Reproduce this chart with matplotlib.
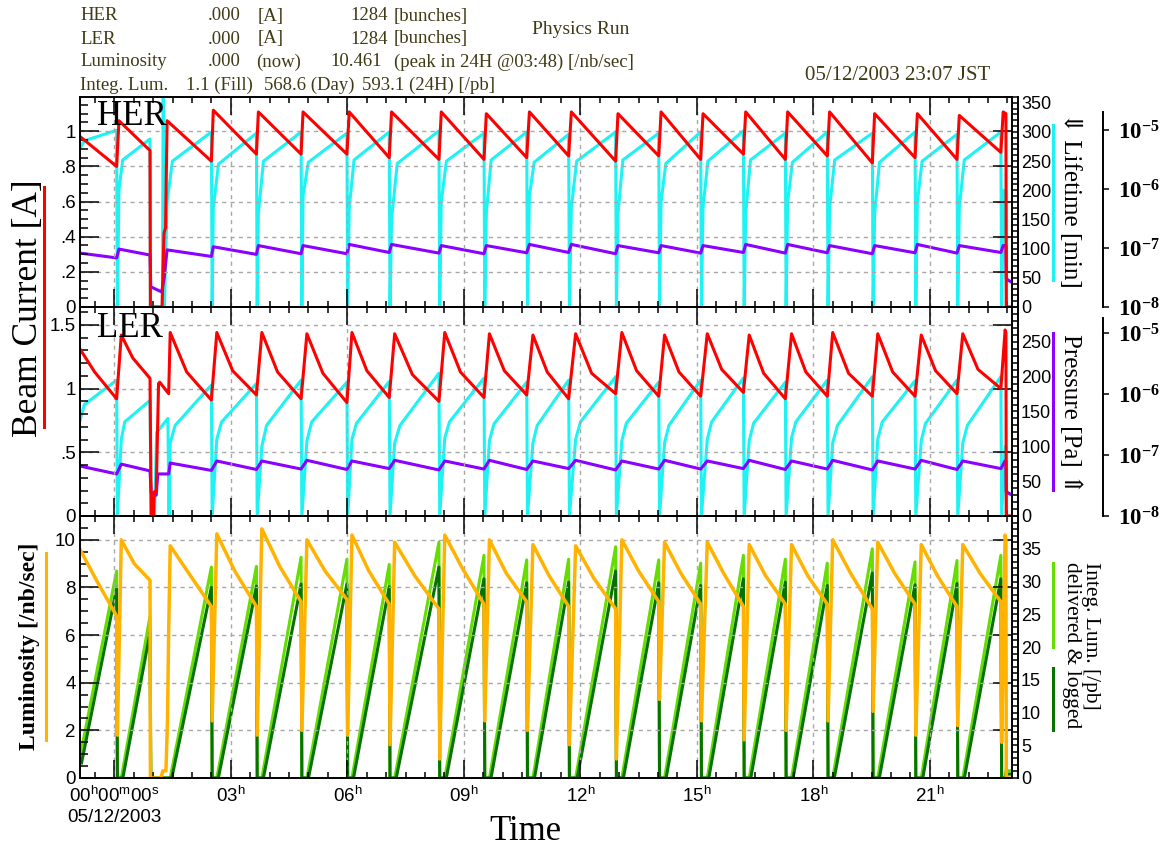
import math
import matplotlib.pyplot as plt
from matplotlib.lines import Line2D
from matplotlib.ticker import MultipleLocator, FixedLocator, FuncFormatter, NullLocator

plt.rcParams['font.family'] = ['Liberation Sans', 'DejaVu Sans']
plt.rcParams['mathtext.fontset'] = 'custom'
plt.rcParams['mathtext.rm'] = 'Liberation Sans'
plt.rcParams['mathtext.bf'] = 'Liberation Serif:bold'
plt.rcParams['mathtext.default'] = 'regular'
SERIF = ['Liberation Serif', 'DejaVu Serif']

# ---------------- data (hours since 00:00 05/12/2003) ----------------
T_START, T_END = -0.883, 23.117

her_on_t   = [-0.883, 0.12, 1.36, 2.55, 3.71, 4.86, 6.05, 7.14, 8.42, 9.58, 10.69,
              11.77, 12.97, 14.08, 15.16, 16.26, 17.34, 18.42, 19.58, 20.68, 21.76, 22.89]
ler_on_t   = [-0.883, 0.18, 1.44, 2.64, 3.80, 4.96, 6.12, 7.22, 8.51, 9.66, 10.78,
              11.88, 13.07, 14.17, 15.27, 16.35, 17.44, 18.50, 19.66, 20.78, 21.85, 22.94]
fill_end_t = [0.06, 0.92, 2.50, 3.66, 4.81, 5.99, 7.08, 8.36, 9.52, 10.62, 11.70,
              12.91, 14.02, 15.10, 16.20, 17.28, 18.36, 19.52, 20.62, 21.70, 22.83, 22.96]

# beam currents [A]
her_on  = [0.97, 1.06, 1.06, 1.12, 1.11, 1.11, 1.11, 1.11, 1.11, 1.10, 1.11,
           1.11, 1.10, 1.11, 1.10, 1.11, 1.11, 1.11, 1.10, 1.10, 1.09, 1.11]
her_off = [0.80, 0.89, 0.83, 0.87, 0.87, 0.87, 0.85, 0.84, 0.84, 0.85, 0.86,
           0.83, 0.86, 0.84, 0.87, 0.84, 0.86, 0.82, 0.85, 0.84, 0.88, 1.10]
ler_on  = [1.31, 1.42, 1.44, 1.44, 1.44, 1.43, 1.44, 1.43, 1.44, 1.43, 1.42,
           1.43, 1.44, 1.42, 1.43, 1.42, 1.43, 1.44, 1.43, 1.42, 1.43, 1.46]
ler_mid = [1.13, 1.24, 1.13, 1.14, 1.13, 1.12, 1.14, 1.11, 1.13, 1.14, 1.13,
           1.12, 1.14, 1.13, 1.15, 1.12, 1.13, 1.12, 1.13, 1.14, 1.15, 1.45]
ler_off = [0.92, 1.08, 0.91, 0.95, 0.92, 0.89, 0.93, 0.90, 0.93, 0.95, 0.92,
           0.96, 0.94, 0.94, 0.97, 0.92, 0.94, 0.94, 0.94, 0.96, 1.00, 1.44]

# lifetimes [min]
her_life_on  = [272, 200, 180, 170, 160, 190, 170, 150, 180, 160, 190,
                170, 160, 180, 170, 160, 180, 170, 160, 180, 170, 150]
her_life_mid = [285, 252, 250, 245, 250, 248, 252, 246, 250, 252, 248,
                250, 252, 246, 250, 252, 248, 252, 248, 250, 252, 200]
her_life_off = [303, 288, 300, 298, 300, 298, 300, 302, 298, 300, 296,
                300, 298, 300, 302, 298, 300, 298, 300, 296, 300, 200]
ler_life_on  = [137, 110, 105, 110, 100, 108, 110, 105, 112, 108, 105,
                110, 108, 105, 110, 108, 112, 105, 110, 108, 105, 100]
ler_life_mid = [160, 135, 130, 135, 130, 135, 133, 130, 135, 132, 130,
                135, 133, 130, 135, 133, 135, 130, 135, 133, 130, 100]
ler_life_off = [195, 166, 188, 190, 195, 192, 193, 205, 198, 192, 195,
                200, 192, 195, 198, 192, 195, 200, 194, 195, 200, 100]

# vacuum pressure [1e-8 Pa]
her_p_on  = [8.2, 9.6, 9.3, 10.5, 11.0, 11.0, 11.5, 11.5, 11.0, 11.0, 11.5,
             11.5, 11.0, 11.0, 11.0, 11.5, 11.5, 11.0, 11.0, 11.5, 11.0, 11.0]
her_p_off = [6.8, 7.6, 7.2, 7.8, 8.0, 8.0, 8.4, 8.2, 8.0, 8.3, 8.4,
             8.0, 8.3, 8.2, 8.4, 8.2, 8.3, 8.0, 8.3, 8.2, 8.4, 11.0]
ler_p_on  = [6.6, 7.1, 7.4, 8.0, 8.0, 8.2, 8.0, 8.2, 8.0, 8.2, 8.0,
             8.2, 8.0, 8.2, 8.0, 8.2, 8.0, 8.2, 8.0, 8.2, 8.0, 8.0]
ler_p_off = [4.9, 5.5, 5.6, 5.8, 5.9, 5.8, 6.0, 5.7, 5.9, 5.8, 6.0,
             5.7, 5.9, 5.9, 6.0, 5.8, 5.9, 5.7, 5.9, 5.8, 6.0, 8.0]

# luminosity [/nb/sec]
lum_on  = [9.6, 10.0, 9.75, 10.25, 10.46, 10.0, 10.2, 9.9, 10.2, 10.0, 9.8,
           9.75, 10.0, 9.9, 9.9, 9.8, 9.8, 10.0, 9.9, 9.8, 9.8, 10.2]
lum_mid = [8.3, 9.0, 8.6, 8.7, 8.9, 8.7, 8.7, 8.5, 8.8, 8.6, 8.5,
           8.4, 8.7, 8.6, 8.6, 8.5, 8.5, 8.6, 8.6, 8.5, 8.6, 10.1]
lum_off = [6.8, 8.3, 7.2, 7.2, 7.4, 7.5, 7.3, 7.1, 7.3, 7.4, 7.2,
           7.1, 7.4, 7.3, 7.2, 7.3, 7.3, 7.1, 7.3, 7.2, 7.4, 10.0]
lum_dip = [1.8, 0.0, 2.4, 1.8, 2.0, 1.8, 1.4, 0.8, 2.4, 2.0, 1.4,
           0.8, 3.3, 2.4, 1.6, 2.0, 2.4, 2.8, 1.8, 2.2, 1.5, 0.0]

# integrated luminosity per fill [/pb]
int_del_on  = [3.2] + [0.0] * 21
int_log_on  = [2.3] + [0.0] * 21
int_del_off = [31.6, 24.7, 32.2, 32.3, 33.7, 33.4, 32.6, 36.0, 34.0, 33.3, 33.4,
               35.3, 33.3, 32.8, 34.0, 33.4, 32.8, 35.0, 33.0, 33.2, 34.0, 1.1]
int_log_off = [29.0, 22.2, 29.1, 29.3, 29.6, 29.6, 29.2, 32.2, 30.4, 29.8, 29.9,
               31.6, 29.8, 29.4, 30.4, 29.9, 29.4, 31.3, 29.5, 29.7, 30.4, 0.6]

# beam loss after fill 1 and final abort
her_gap_t, her_gap = [0.93, 1.23, 1.28, 1.32], [0, 0, 0.42, 0.45]
ler_gap_t, ler_gap = [0.95, 1.01, 1.03, 1.08, 1.14, 1.17, 1.40], [0, 0, 0.19, 0.19, 1.04, 1.05, 0.96]
lum_gap_t, lum_gap = [0.93, 1.20, 1.25, 1.33, 1.37, 1.40], [0, 0, 0.3, 0.3, 2.4, 6.1]
her_life_gap_t, her_life_gap = [0.93, 1.24, 1.26, 1.29], [0, 0, 380, 0]
ler_life_gap_t, ler_life_gap = [0.95, 1.04, 1.09, 1.38, 1.41], [0, 0, 120, 140, 0]
her_p_gap_t, her_p_gap = [0.94, 1.22, 1.28], [2.2, 1.8, 3.0]
ler_p_gap_t, ler_p_gap = [0.95, 1.08, 1.12, 1.40], [2.4, 2.2, 4.9, 4.9]
abort_t = [22.97, T_END]
her_p_abort, ler_p_abort = [3.0, 2.6], [2.5, 2.2]


def sawtooth(t_on, v_on, t_off, v_off, v_mid=None, frac=0.5, v_inj=None, gaps=None):
    """Join the fills into one polyline: peak -> (mid) -> end -> injection."""
    gaps = gaps or {}
    t, v = [], []
    for i in range(len(t_on)):
        t.append(t_on[i]); v.append(v_on[i])
        if v_mid is not None:
            t.append(t_on[i] + frac * (t_off[i] - t_on[i])); v.append(v_mid[i])
        t.append(t_off[i]); v.append(v_off[i])
        if i in gaps:
            t += list(gaps[i][0]); v += list(gaps[i][1])
        elif v_inj is not None:
            t.append(t_off[i] + 0.02); v.append(v_inj[i])
    return t, v


# ---------------- figure ----------------
W, H = 1163, 852
fig = plt.figure(figsize=(W / 100, H / 100), dpi=100)
fig.patch.set_facecolor('white')

RED, CYAN, PURPLE = '#ff0000', '#1ef2f2', '#8c00ff'
ORANGE, LGREEN, DGREEN = '#ffb300', '#66dd00', '#067300'
HDR = '#3e3a14'
LW = 2.2


def px_axes(x0, y0, x1, y1):
    return fig.add_axes([x0 / W, 1 - y1 / H, (x1 - x0) / W, (y1 - y0) / H])


def no_lead_zero(v, pos):
    s = '%g' % v
    return s[1:] if s.startswith('0.') else s


def hour_label(v, pos):
    h = int(round(v))
    if h == 0:
        return '$00^h00^m00^s$\n05/12/2003'
    return '$%02d^h$' % h


def style_main(ax, ymax, major, minor, bottom_labels=False):
    ax.set_xlim(T_START, T_END)
    ax.set_ylim(0, ymax)
    ax.xaxis.set_major_locator(MultipleLocator(3))
    ax.xaxis.set_minor_locator(MultipleLocator(0.5))
    ax.yaxis.set_major_locator(MultipleLocator(major))
    ax.yaxis.set_minor_locator(MultipleLocator(minor))
    ax.yaxis.set_major_formatter(FuncFormatter(no_lead_zero))
    ax.tick_params(axis='x', which='major', direction='in', top=True, bottom=True,
                   length=13, width=1.1, labelbottom=bottom_labels, labelsize=13.5, pad=6)
    ax.tick_params(axis='x', which='minor', direction='in', top=True, bottom=True,
                   length=4.5, width=1.1)
    ax.tick_params(axis='y', which='major', direction='in', left=True, right=True,
                   length=14, width=1.1, labelsize=13.5, pad=3)
    ax.tick_params(axis='y', which='minor', direction='in', left=True, right=False,
                   length=5.5, width=1.1)
    if bottom_labels:
        ax.xaxis.set_major_formatter(FuncFormatter(hour_label))
    ax.grid(True, which='major', color='#a8a8a8', lw=1, ls=(0, (3, 3)))
    for s in ax.spines.values():
        s.set_linewidth(1.4)
    ax.patch.set_visible(False)
    ax.set_zorder(3)


def style_right(ax, ymax, major, minor, top_tick):
    ax.set_ylim(0, ymax)
    ax.yaxis.set_major_locator(FixedLocator(list(range(0, top_tick + 1, major))))
    ax.yaxis.set_minor_locator(MultipleLocator(minor))
    ax.spines['right'].set_position(('outward', 4.5))
    ax.spines['right'].set_linewidth(1.4)
    for side in ('left', 'top', 'bottom'):
        ax.spines[side].set_visible(False)
    ax.tick_params(axis='y', which='both', direction='in', length=4.5, width=1.1,
                   labelsize=13, pad=2)
    ax.patch.set_visible(False)
    ax.set_zorder(1)


def style_log(ax, top_exp, spine_top):
    ax.set_yscale('log')
    ax.set_ylim(1e-8, 10 ** top_exp)
    ax.yaxis.set_major_locator(FixedLocator([1e-8, 1e-7, 1e-6, 1e-5]))
    ax.yaxis.set_minor_locator(NullLocator())
    ax.yaxis.set_major_formatter(FuncFormatter(
        lambda v, p: r'$\mathbf{10^{%d}}$' % round(math.log10(v))))
    ax.spines['right'].set_position(('outward', 65.5))
    ax.spines['right'].set_bounds(1e-8, spine_top)
    ax.spines['right'].set_linewidth(1.4)
    for side in ('left', 'top', 'bottom'):
        ax.spines[side].set_visible(False)
    ax.tick_params(axis='y', which='major', direction='out', length=4, width=1.1,
                   labelsize=16.5, pad=7)
    ax.patch.set_visible(False)
    ax.set_zorder(2)


ax1 = px_axes(80, 97, 1012, 307)
ax2 = px_axes(80, 307, 1012, 516)
ax3 = px_axes(80, 516, 1012, 778)
ax1r, ax2r, ax3r = ax1.twinx(), ax2.twinx(), ax3.twinx()
ax1l, ax2l = ax1.twinx(), ax2.twinx()

style_main(ax1, 1.195, 0.2, 0.05)
style_main(ax2, 1.64, 0.5, 0.1)
style_main(ax3, 11, 2, 0.5, bottom_labels=True)
style_right(ax1r, 360, 50, 10, 350)
style_right(ax2r, 300, 50, 10, 250)
style_right(ax3r, 40, 5, 1, 35)
style_log(ax1l, -4.44, 2e-5)
style_log(ax2l, -4.57, 1.8e-5)

abort_zero = (abort_t, [0, 0])

# HER panel
t, v = sawtooth(her_on_t, her_life_on, fill_end_t, her_life_off, her_life_mid, 0.12,
                v_inj=[0] * 22, gaps={1: (her_life_gap_t, her_life_gap), 21: abort_zero})
ax1r.plot(t, v, color=CYAN, lw=LW)
t, v = sawtooth(her_on_t, her_p_on, fill_end_t, her_p_off,
                gaps={1: (her_p_gap_t, her_p_gap), 21: (abort_t, her_p_abort)})
ax1l.plot(t, [p * 1e-8 for p in v], color=PURPLE, lw=LW)
t, v = sawtooth(her_on_t, her_on, fill_end_t, her_off,
                gaps={1: (her_gap_t, her_gap), 21: abort_zero})
ax1.plot(t, v, color=RED, lw=LW)

# LER panel
t, v = sawtooth(ler_on_t, ler_life_on, fill_end_t, ler_life_off, ler_life_mid, 0.12,
                v_inj=[0] * 22, gaps={1: (ler_life_gap_t, ler_life_gap), 21: abort_zero})
ax2r.plot(t, v, color=CYAN, lw=LW)
t, v = sawtooth(ler_on_t, ler_p_on, fill_end_t, ler_p_off,
                gaps={1: (ler_p_gap_t, ler_p_gap), 21: (abort_t, ler_p_abort)})
ax2l.plot(t, [p * 1e-8 for p in v], color=PURPLE, lw=LW)
t, v = sawtooth(ler_on_t, ler_on, fill_end_t, ler_off, ler_mid, 0.4,
                gaps={1: (ler_gap_t, ler_gap), 21: abort_zero})
ax2.plot(t, v, color=RED, lw=LW)

# luminosity panel
t, v = sawtooth(ler_on_t, int_del_on, fill_end_t, int_del_off, v_inj=[0] * 22,
                gaps={21: (abort_t, [1.1, 1.1])})
ax3r.plot(t, v, color=LGREEN, lw=LW)
t, v = sawtooth([x + 0.04 for x in ler_on_t], int_log_on, fill_end_t, int_log_off,
                v_inj=[0] * 22, gaps={21: (abort_t, [0.6, 0.6])})
ax3r.plot(t, v, color=DGREEN, lw=LW)
t, v = sawtooth(ler_on_t, lum_on, fill_end_t, lum_off, lum_mid, 0.45, v_inj=lum_dip,
                gaps={1: (lum_gap_t, lum_gap), 21: abort_zero})
ax3.plot(t, v, color=ORANGE, lw=LW + 0.3)

# ring names inside the panels
ax1.text(0.018, 0.985, 'HER', transform=ax1.transAxes, va='top', ha='left',
         family=SERIF, size=25, zorder=10)
ax2.text(0.018, 0.975, 'LER', transform=ax2.transAxes, va='top', ha='left',
         family=SERIF, size=25, zorder=10)


# ---------------- side labels ----------------
def fx(x):
    return x / W


def fy(y):
    return 1 - y / H


def vline(x, y0, y1, color):
    fig.add_artist(Line2D([fx(x), fx(x)], [fy(y0), fy(y1)], color=color, lw=2.2,
                          transform=fig.transFigure))


fig.text(fx(29), fy(308), 'Beam Current [A]', rotation=90, ha='center', va='center',
         family=SERIF, size=25.5)
vline(44, 187, 427, RED)
fig.text(fx(30), fy(646), 'Luminosity [/nb/sec]', rotation=90, ha='center', va='center',
         family=SERIF, size=17, weight='bold')
vline(46, 553, 740, ORANGE)

fig.text(fx(1070), fy(200), '\u21d3 Lifetime [min]', rotation=270, ha='center',
         va='center', family=SERIF, size=18)
vline(1053, 125, 280, CYAN)
fig.text(fx(1070), fy(414), 'Pressure [Pa] \u21d1', rotation=270, ha='center',
         va='center', family=SERIF, size=18)
vline(1053, 333, 490, PURPLE)
fig.text(fx(1081), fy(645), 'Integ. Lum. [/pb]\ndelivered & logged', rotation=270,
         ha='center', va='center', ma='left', family=SERIF, size=15.5, linespacing=1.05)
vline(1053, 563, 647, LGREEN)
vline(1053, 668, 730, DGREEN)

fig.text(fx(525), fy(832), 'Time', ha='center', va='center', family=SERIF, size=25)

# ---------------- status header ----------------
header = [
    (80, 16, 'HER'), (208, 16, '.000'), (258, 16, '[A]'), (350, 16, '1284'),
    (394, 16, '[bunches]'),
    (80, 39, 'LER'), (208, 39, '.000'), (258, 39, '[A]'), (350, 39, '1284'),
    (394, 39, '[bunches]'),
    (80, 62, 'Luminosity'), (208, 62, '.000'), (256, 62, '(now)'), (330, 62, '10.461'),
    (394, 62, '(peak in 24H @03:48) [/nb/sec]'),
    (80, 85, 'Integ. Lum.'), (186, 85, '1.1 (Fill)'), (264, 85, '568.6 (Day)'),
    (362, 85, '593.1 (24H) [/pb]'),
]
for x, y, s in header:
    fig.text(fx(x), fy(y), s, ha='left', va='center', family=SERIF, size=13.5, color=HDR)
fig.text(fx(532), fy(30), 'Physics Run', ha='left', va='center', family=SERIF,
         size=14, color=HDR)
fig.text(fx(805), fy(76), '05/12/2003 23:07 JST', ha='left', va='center', family=SERIF,
         size=15, color=HDR)

fig.savefig('out.png', dpi=100, facecolor='white')
